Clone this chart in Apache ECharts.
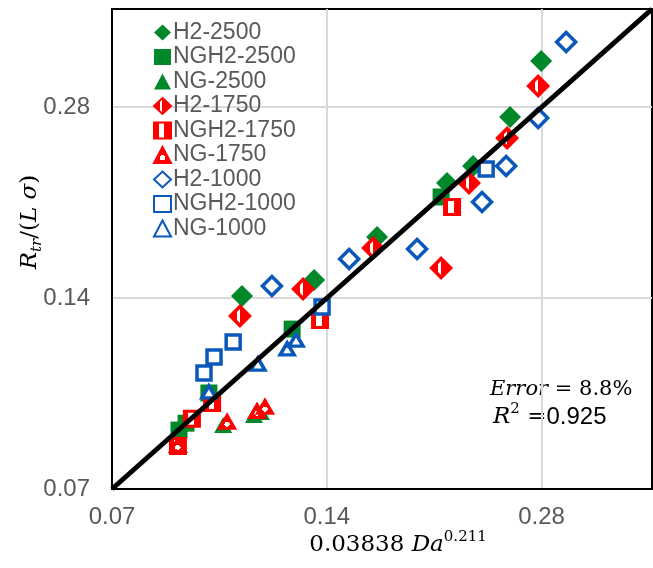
<!DOCTYPE html>
<html>
<head>
<meta charset="utf-8">
<title>Rtr / (L sigma) vs 0.03838 Da^0.211</title>
<script src="https://cdn.jsdelivr.net/npm/echarts@6/dist/echarts.min.js"></script>
<style>
    html, body { margin: 0; padding: 0; background: #fff; }
    #chart { width: 653px; height: 568px; }
</style>
</head>
<body>
<div id="chart"></div>
<script>
// 数据 [x, y]
var h2_2500 = [[0.1065, 0.1411], [0.1344, 0.1495], [0.1647, 0.1748], [0.2064, 0.2126], [0.2245, 0.2262], [0.2530, 0.2702], [0.2797, 0.3311]]
var ngh2_2500 = [[0.0869, 0.0867], [0.0889, 0.0889], [0.0957, 0.0992], [0.1252, 0.1251], [0.2025, 0.2021]]
var ng_2500 = [[0.1002, 0.0883], [0.1107, 0.0916], [0.1132, 0.0926]]
var h2_1750 = [[0.1058, 0.1312], [0.1297, 0.1447], [0.1626, 0.1679], [0.2025, 0.1562], [0.2216, 0.2126], [0.2506, 0.2504], [0.2770, 0.3024]]
var ngh2_1750 = [[0.0866, 0.0818], [0.0906, 0.0903], [0.0967, 0.0957], [0.1370, 0.1293], [0.2098, 0.1949]]
var ng_1750 = [[0.0866, 0.0821], [0.1015, 0.0893], [0.1118, 0.0929], [0.1147, 0.0943]]
var h2_1000 = [[0.1173, 0.1463], [0.1505, 0.1614], [0.1874, 0.1673], [0.2311, 0.1985], [0.2498, 0.2262], [0.2770, 0.2692], [0.3032, 0.3548]]
var ngh2_1000 = [[0.0942, 0.1067], [0.0973, 0.1130], [0.1035, 0.1194], [0.1379, 0.1355], [0.2342, 0.2237]]
var ng_1000 = [[0.0957, 0.0996], [0.1121, 0.1102], [0.1232, 0.1164], [0.1268, 0.1202]]

// y = x 参考线
var parity = [0.07, 0.4]

// 坐标轴 (log2)
var axisMin = 0.07
var axisMax = 0.4
var tickLabels = ['0.07', '0.14', '0.28']

var GREEN = '#00882b'
var RED = '#ff0000'
var BLUE = '#0a58bb'
var GRAY = '#595959'
var SANS = 'Liberation Sans, Arial, sans-serif'
var SERIF = 'DejaVu Serif, serif'

function lg (v) {
    return Math.log(v / axisMin) / Math.LN2
}

function toPlot (pts) {
    return pts.map(function (p) { return [lg(p[0]), lg(p[1])] })
}

// 红色图案填充
function stripes (horizontal, stops) {
    var list = []
    stops.forEach(function (s) {
        list.push({ offset: s[0], color: s[2] })
        list.push({ offset: s[1], color: s[2] })
    })
    return new echarts.graphic.LinearGradient(0, 0, horizontal ? 1 : 0, horizontal ? 0 : 1, list)
}

var redDiamondFill = stripes(true, [[0, 0.36, RED], [0.36, 0.5, '#fff'], [0.5, 1, RED]])
var redSquareFill = stripes(true, [[0, 0.3, RED], [0.3, 0.6, '#fff'], [0.6, 1, RED]])
var redTriFill = new echarts.graphic.RadialGradient(0.5, 0.65, 0.5, [
    { offset: 0, color: '#fff' }, { offset: 0.3, color: '#fff' },
    { offset: 0.3, color: RED }, { offset: 1, color: RED }
])

function scatter (name, data, symbol, size, itemStyle) {
    itemStyle.opacity = 1
    return {
        name: name,
        type: 'scatter',
        data: toPlot(data),
        symbol: symbol,
        symbolSize: size,
        itemStyle: itemStyle,
        emphasis: { disabled: true },
    }
}

var names = ['H2-2500', 'NGH2-2500', 'NG-2500', 'H2-1750', 'NGH2-1750', 'NG-1750', 'H2-1000', 'NGH2-1000', 'NG-1000']

var axisCommon = {
    type: 'value',
    min: 0,
    max: lg(axisMax),
    interval: 1,
    axisLine: { show: true, lineStyle: { color: '#000', width: 2 } },
    axisTick: { show: false },
    splitLine: { show: true, showMinLine: false, showMaxLine: false, lineStyle: { color: '#d9d9d9', width: 2 } },
    axisLabel: {
        showMaxLabel: false,
        fontFamily: SANS,
        fontSize: 24,
        color: GRAY,
        formatter: function (v) { return tickLabels[Math.round(v)] || '' },
    },
}

var mathRich = {
    i: { fontFamily: SERIF, fontStyle: 'italic', fontSize: 23, fill: '#000', lineHeight: 30 },
    n: { fontFamily: SERIF, fontSize: 23, fill: '#000', lineHeight: 30 },
    e: { fontFamily: SERIF, fontStyle: 'italic', fontSize: 21, fill: '#000', lineHeight: 30 },
    en: { fontFamily: SERIF, fontSize: 21, fill: '#000', lineHeight: 30 },
    s: { fontFamily: SANS, fontSize: 24, fill: '#000', lineHeight: 30 },
    sub: { fontFamily: SERIF, fontStyle: 'italic', fontSize: 15, fill: '#000', verticalAlign: 'bottom' },
    sup: { fontFamily: SERIF, fontSize: 15, fill: '#000', verticalAlign: 'top' },
}

var option = {
    backgroundColor: '#fff',
    animation: false,
    grid: {
        left: 112, right: 1, top: 9, bottom: 79,
        show: true, borderColor: '#000', borderWidth: 2, backgroundColor: 'transparent',
    },
    xAxis: echarts.util.merge({ axisLabel: { margin: 16 } }, axisCommon, true),
    yAxis: echarts.util.merge({ axisLabel: { margin: 22 } }, axisCommon, true),
    legend: {
        data: names,
        orient: 'vertical',
        left: 148,
        top: 16,
        itemWidth: 17,
        itemHeight: 16,
        itemGap: 1.5,
        selectedMode: false,
        textStyle: { fontFamily: SANS, fontSize: 23, color: GRAY, lineHeight: 20, padding: [0, 0, 0, -3] },
    },
    graphic: [
        {
            type: 'text', x: 398, y: 545,
            style: {
                text: '{n|0.03838 }{i|Da}{sup|0.211}', rich: mathRich,
                align: 'center', verticalAlign: 'middle',
            },
        },
        {
            type: 'text', x: 30, y: 222, rotation: Math.PI / 2,
            style: {
                text: '{i|R}{sub|tr}{n|/(}{i|L σ}{n|)}', rich: mathRich,
                align: 'center', verticalAlign: 'middle',
            },
        },
        {
            type: 'text', x: 490, y: 390,
            style: { text: '{e|Error}{en| = 8.8%}', rich: mathRich, align: 'left', verticalAlign: 'middle' },
        },
        {
            type: 'text', x: 493, y: 417,
            style: { text: '{i|R}{sup|2}{n| =}{s|0.925}', rich: mathRich, align: 'left', verticalAlign: 'middle' },
        },
    ],
    series: [
        {
            type: 'line',
            data: [[lg(parity[0]), lg(parity[0])], [lg(parity[1]), lg(parity[1])]],
            symbol: 'none',
            lineStyle: { color: '#000', width: 5 },
            silent: true,
            clip: false,
        },
        scatter('H2-2500', h2_2500, 'diamond', 22, { color: GREEN }),
        scatter('NGH2-2500', ngh2_2500, 'rect', 17, { color: GREEN }),
        scatter('NG-2500', ng_2500, 'triangle', [18, 16], { color: GREEN }),
        scatter('H2-1750', h2_1750, 'diamond', 19, { color: redDiamondFill, borderColor: RED, borderWidth: 3.5 }),
        scatter('NGH2-1750', ngh2_1750, 'rect', 15, { color: redSquareFill, borderColor: RED, borderWidth: 3 }),
        scatter('NG-1750', ng_1750, 'triangle', [15, 13], { color: redTriFill, borderColor: RED, borderWidth: 3 }),
        scatter('H2-1000', h2_1000, 'diamond', 19, { color: '#fff', borderColor: BLUE, borderWidth: 3.5 }),
        scatter('NGH2-1000', ngh2_1000, 'rect', 14, { color: '#fff', borderColor: BLUE, borderWidth: 3.5 }),
        scatter('NG-1000', ng_1000, 'triangle', [14, 12], { color: '#fff', borderColor: BLUE, borderWidth: 3.5 }),
    ],
}

var chart = echarts.init(document.getElementById('chart'), null, { renderer: 'canvas' })
chart.setOption(option)
</script>
</body>
</html>
